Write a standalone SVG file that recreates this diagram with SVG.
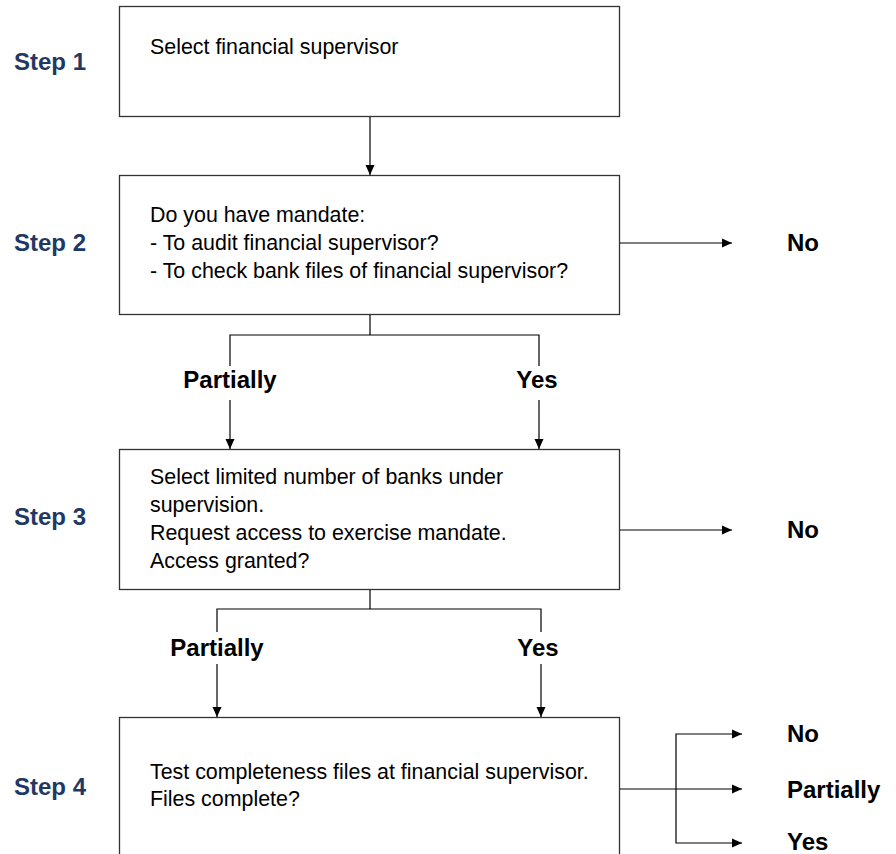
<svg xmlns="http://www.w3.org/2000/svg" width="896" height="854" viewBox="0 0 896 854">
<defs>
<marker id="ah" viewBox="0 0 10 10" refX="10" refY="5" markerWidth="10" markerHeight="10" markerUnits="userSpaceOnUse" orient="auto">
<path d="M0,0.5 L10,5 L0,9.5 Z" fill="#000"/>
</marker>
<style>
.box{fill:#fff;stroke:#333;stroke-width:1.3}
.t{font-family:"Liberation Sans",Arial,sans-serif;font-size:21.4px;fill:#000}
.step{font-family:"Liberation Sans",Arial,sans-serif;font-size:24px;font-weight:bold;fill:#1F3864}
.lab{font-family:"Liberation Sans",Arial,sans-serif;font-size:24px;font-weight:bold;fill:#000}
.c{fill:none;stroke:#000;stroke-width:1.2}
.a{marker-end:url(#ah)}
</style>
</defs>
<rect width="896" height="854" fill="#fff"/>
<g id="step-labels">
<text class="step" x="14" y="70">Step 1</text>
<text class="step" x="14" y="251">Step 2</text>
<text class="step" x="14" y="525">Step 3</text>
<text class="step" x="14" y="795">Step 4</text>
</g>
<g id="node1">
<rect class="box" x="119.5" y="6.5" width="500" height="110"/>
<text class="t" x="150" y="54">Select financial supervisor</text>
</g>
<g id="node2">
<rect class="box" x="119.5" y="175.5" width="500" height="139"/>
<text class="t" x="150" y="222">Do you have mandate:</text>
<text class="t" x="150" y="250">- To audit financial supervisor?</text>
<text class="t" x="150" y="278">- To check bank files of financial supervisor?</text>
</g>
<g id="node3">
<rect class="box" x="119.5" y="449.5" width="500" height="140"/>
<text class="t" x="150" y="484">Select limited number of banks under</text>
<text class="t" x="150" y="512">supervision.</text>
<text class="t" x="150" y="540">Request access to exercise mandate.</text>
<text class="t" x="150" y="568">Access granted?</text>
</g>
<g id="node4">
<rect class="box" x="119.5" y="717.5" width="500" height="150"/>
<text class="t" x="150" y="779">Test completeness files at financial supervisor.</text>
<text class="t" x="150" y="806">Files complete?</text>
</g>
<g id="connectors">
<path class="c a" d="M370,117 V175"/>
<path class="c a" d="M620,243 H732"/>
<path class="c" d="M370,315 V335 M230,366 V335 H539 V366"/>
<path class="c a" d="M230,400 V449"/>
<path class="c a" d="M539,400 V449"/>
<path class="c a" d="M620,530 H732"/>
<path class="c" d="M370,590 V609 M217,632 V609 H541 V632"/>
<path class="c a" d="M217,664 V717"/>
<path class="c a" d="M541,664 V717"/>
<path class="c a" d="M620,789 H742"/>
<path class="c a" d="M676,789 V734 H742"/>
<path class="c a" d="M676,789 V843 H742"/>
</g>
<g id="outcome-labels">
<text class="lab" x="787" y="251">No</text>
<text class="lab" x="787" y="538">No</text>
<text class="lab" x="230" y="388" text-anchor="middle">Partially</text>
<text class="lab" x="537" y="388" text-anchor="middle">Yes</text>
<text class="lab" x="217" y="656" text-anchor="middle">Partially</text>
<text class="lab" x="538" y="656" text-anchor="middle">Yes</text>
<text class="lab" x="787" y="742">No</text>
<text class="lab" x="787" y="798">Partially</text>
<text class="lab" x="787" y="850">Yes</text>
</g>
</svg>
